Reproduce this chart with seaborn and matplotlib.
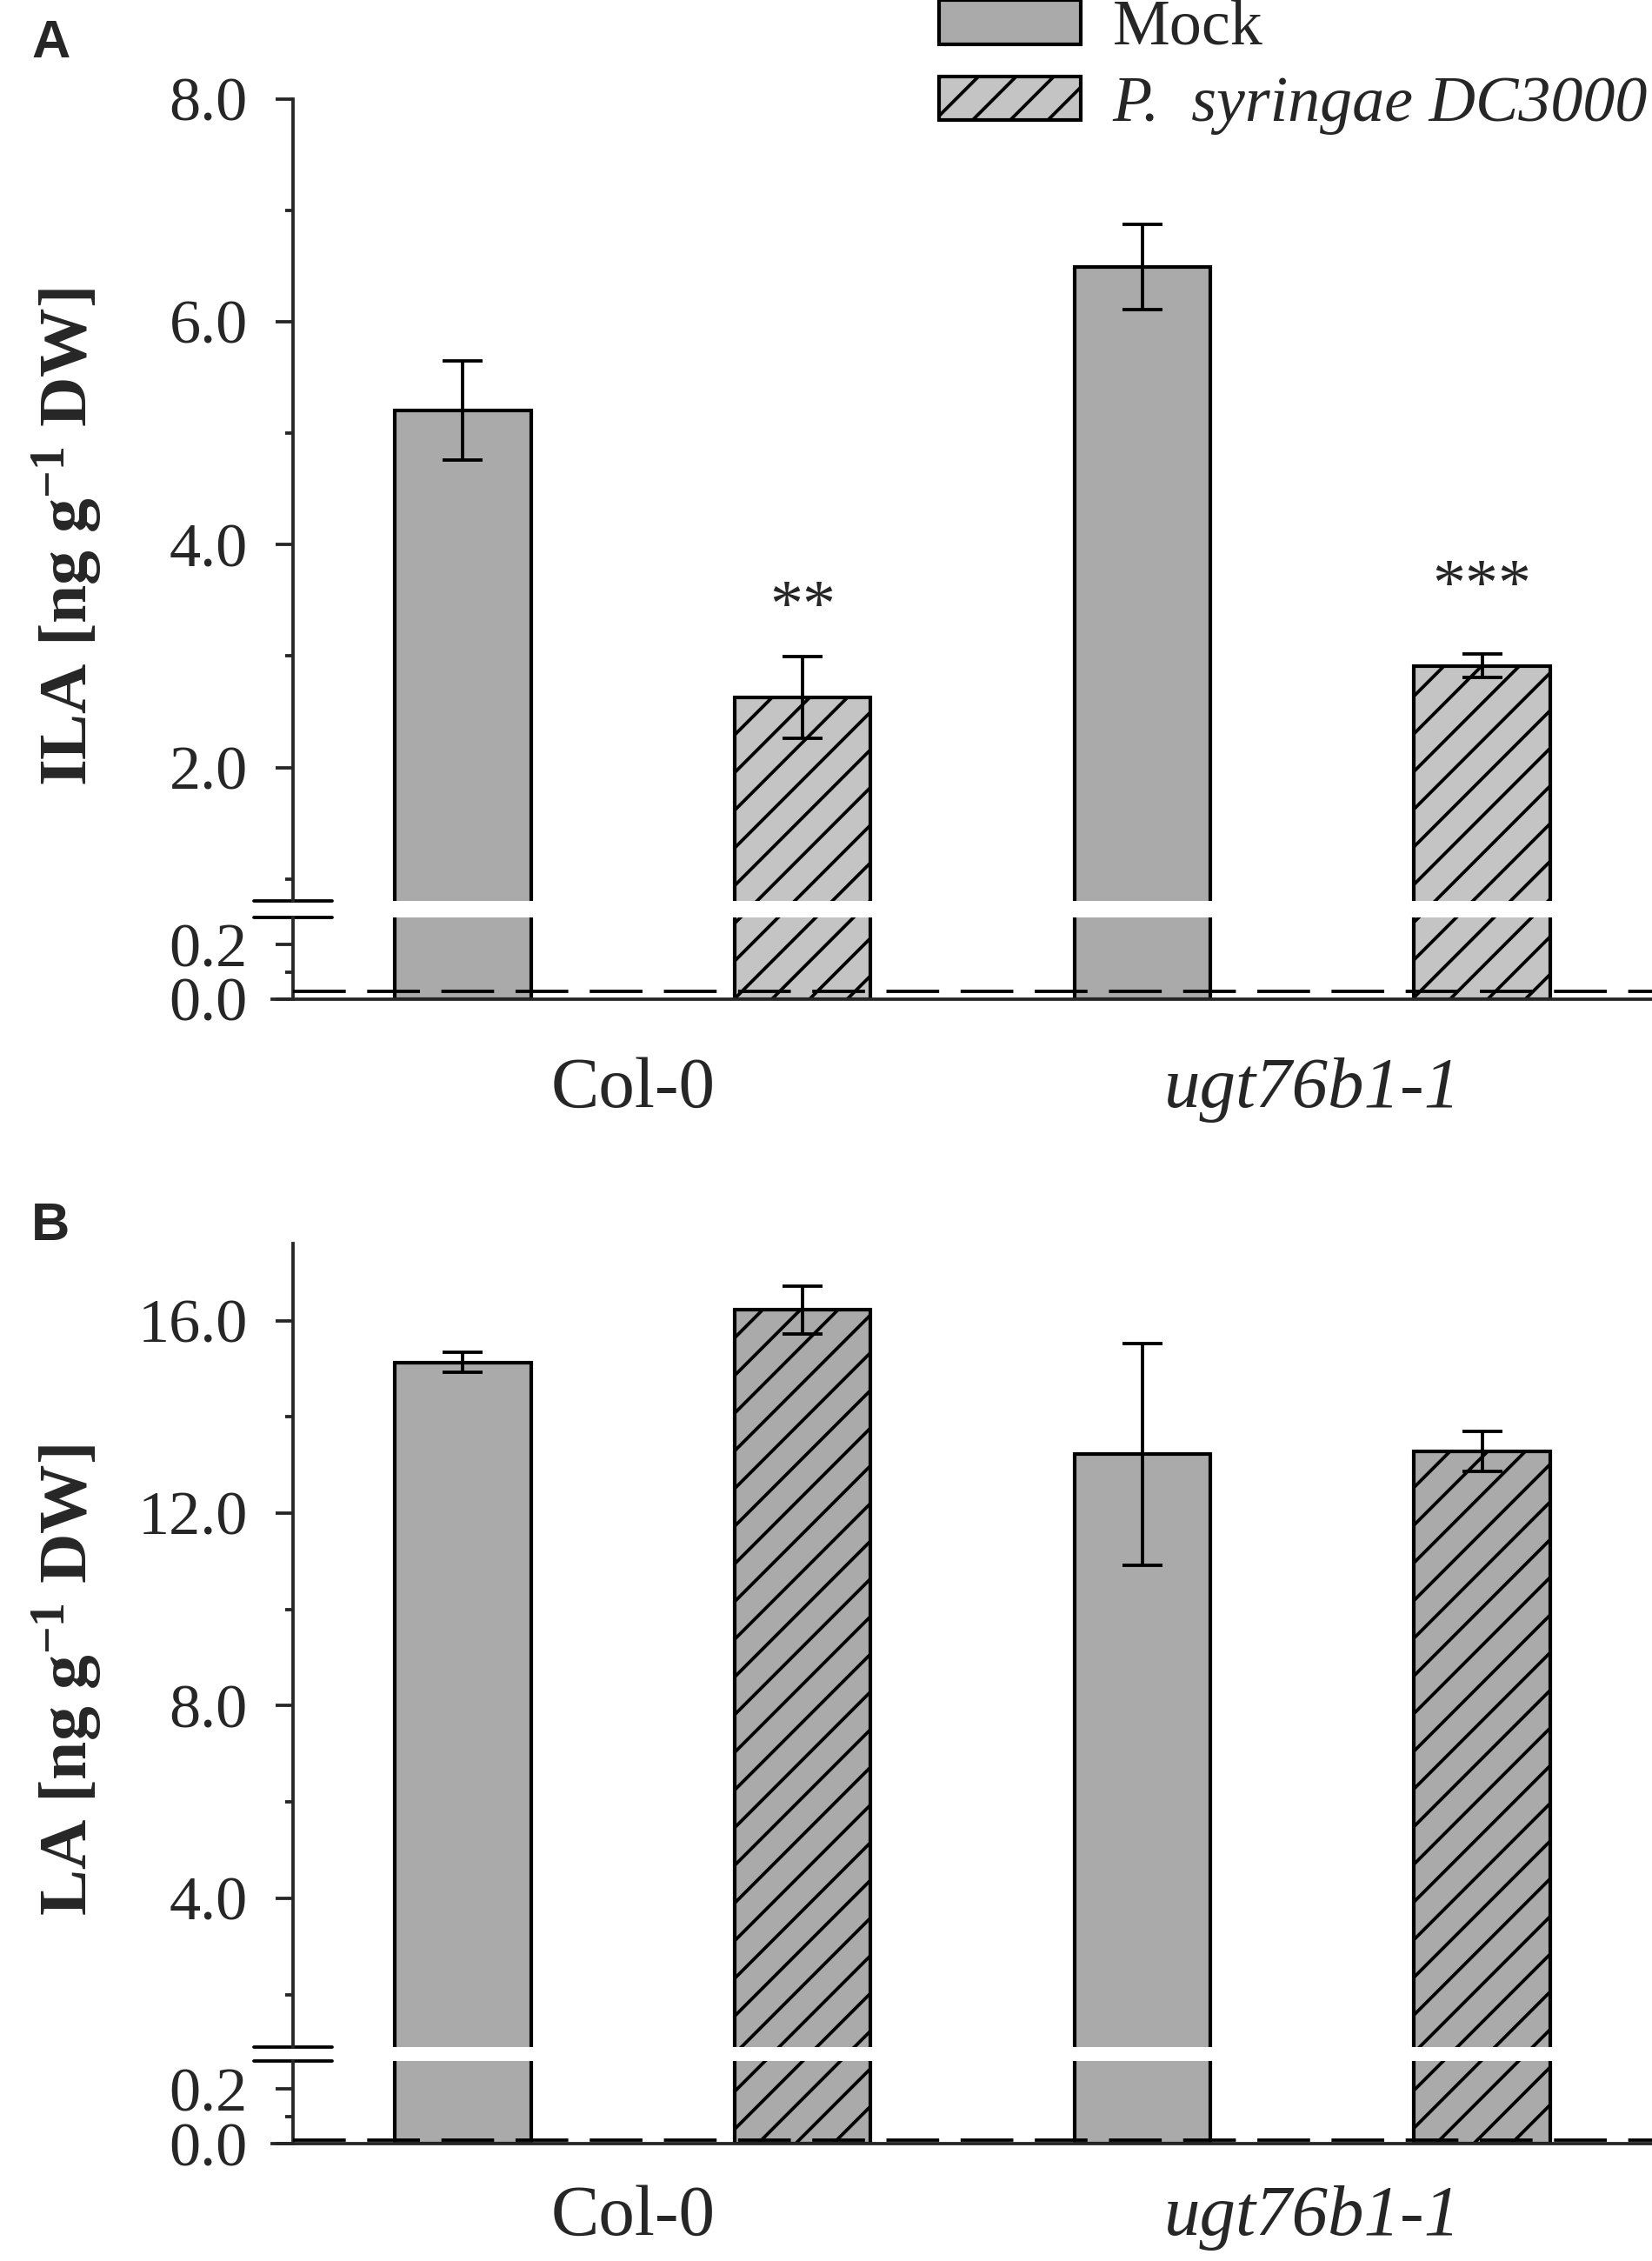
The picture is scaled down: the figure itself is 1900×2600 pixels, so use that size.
import numpy as np
import pandas as pd
import matplotlib
matplotlib.use("Agg")
import matplotlib.pyplot as plt
from matplotlib.patches import Patch
from matplotlib.ticker import FixedLocator, FormatStrFormatter
import seaborn as sns

sns.set_style("ticks")
plt.rcParams["font.family"] = ["Liberation Serif", "DejaVu Serif"]
plt.rcParams["mathtext.fontset"] = "custom"
plt.rcParams["mathtext.rm"] = "Liberation Serif"
plt.rcParams["mathtext.bf"] = "Liberation Serif:bold"
plt.rcParams["mathtext.default"] = "bf"
plt.rcParams["hatch.linewidth"] = 1.05

# --- data ---
genotypes = ["Col-0", "ugt76b1-1"]
treatments = ["Mock", "P.  syringae DC3000"]

# panel A: ILA
ila_mock = [5.20, 6.49]
ila_mock_err = [0.445, 0.385]
ila_pst = [2.63, 2.91]
ila_pst_err = [0.365, 0.105]
ila_stars = ["**", "***"]
ila_star_y = [3.42, 3.61]
ila_lod = 0.028

# panel B: LA
la_mock = [15.13, 13.22]
la_mock_err = [0.21, 2.30]
la_pst = [16.22, 13.28]
la_pst_err = [0.49, 0.42]
la_lod = 0.014

mock_color = "#AAAAAA"
pst_color_a = "#C4C4C4"
pst_color_b = "#AAAAAA"

DPI = 260
fig = plt.figure(figsize=(1900 / DPI, 2600 / DPI), dpi=DPI)

left, width = 313 / 1900, 1 - 313 / 1900
xlim = (-0.5307, 1.5)
LW = 1.05


def draw_panel(ax_top, ax_bot, mock, mock_err, pst, pst_err, pst_color,
               top_lim, major, minor, lod, xpad, stars=None, star_y=None):
    df = pd.DataFrame({
        "genotype": genotypes * 2,
        "treatment": [treatments[0]] * 2 + [treatments[1]] * 2,
        "value": mock + pst,
    })
    for ax in (ax_top, ax_bot):
        sns.barplot(data=df, x="genotype", y="value", hue="treatment",
                    order=genotypes, hue_order=treatments,
                    palette=[mock_color, pst_color], saturation=1,
                    width=1.0, gap=0.6, errorbar=None, edgecolor="black",
                    linewidth=1.15, legend=False, ax=ax)
        for bar in ax.containers[1]:
            bar.set_hatch("//")
        ax.set_xlim(*xlim)
        ax.set_xlabel("")
        ax.set_ylabel("")
        ax.spines["left"].set_position(("data", -0.5))
        for s in ("top", "right"):
            ax.spines[s].set_visible(False)
        for s in ("left", "bottom"):
            ax.spines[s].set_linewidth(LW)
        ax.tick_params(axis="y", which="major", length=5.5, width=LW,
                       labelsize=20, pad=9, direction="out")
        ax.tick_params(axis="y", which="minor", length=2.5, width=LW,
                       direction="out", left=True)
        ax.yaxis.set_major_formatter(FormatStrFormatter("%.1f"))

    # error bars on the upper segment
    for cont, vals, errs in zip(ax_top.containers, [mock, pst], [mock_err, pst_err]):
        bars = sorted(cont, key=lambda b: b.get_x())
        xs = [b.get_x() + b.get_width() / 2 for b in bars]
        ax_top.errorbar(xs, vals, yerr=errs, fmt="none", ecolor="black",
                        elinewidth=LW, capsize=6.4, capthick=LW, zorder=5)
        if stars is not None and cont is ax_top.containers[1]:
            for x, s, y in zip(xs, stars, star_y):
                ax_top.text(x, y, s, ha="center", va="center", fontsize=21)

    ax_top.set_ylim(top_lim)
    ax_top.yaxis.set_major_locator(FixedLocator(major))
    ax_top.yaxis.set_minor_locator(FixedLocator(minor))
    ax_top.spines["bottom"].set_visible(False)
    ax_top.tick_params(axis="x", bottom=False, labelbottom=False)

    ax_bot.set_ylim(0, 0.3)
    ax_bot.yaxis.set_major_locator(FixedLocator([0.0, 0.2]))
    ax_bot.yaxis.set_minor_locator(FixedLocator([0.1]))
    ax_bot.tick_params(axis="x", length=0, labelsize=23, pad=xpad)
    ax_bot.get_xticklabels()[1].set_style("italic")
    ax_bot.hlines(lod, -0.5, 1.5, colors="black", linestyles=(0, (16, 6.5)),
                  lw=LW, zorder=4)

    # axis break marks
    for ax, yy in ((ax_top, 0), (ax_bot, 1)):
        ax.plot([-0.557, -0.443], [yy, yy], transform=ax.get_xaxis_transform(),
                color="black", lw=LW, clip_on=False)


ax_a_top = fig.add_axes([left, 0.60138, width, 0.35496])
ax_a_bot = fig.add_axes([left, 0.55808, width, 0.03627])
ax_b_top = fig.add_axes([left, 0.09446, width, 0.35554])
ax_b_bot = fig.add_axes([left, 0.05192, width, 0.03635])

draw_panel(ax_a_top, ax_a_bot, ila_mock, ila_mock_err, ila_pst, ila_pst_err,
           pst_color_a, (0.8, 8.0), [2, 4, 6, 8], [1, 3, 5, 7], ila_lod, 18.3,
           ila_stars, ila_star_y)
draw_panel(ax_b_top, ax_b_bot, la_mock, la_mock_err, la_pst, la_pst_err,
           pst_color_b, (0.9, 17.6), [4, 8, 12, 16], [2, 6, 10, 14], la_lod, 13.2)

# y labels
fig.text(78 / 1900, 1 - 618 / 2600, "ILA [ng g$^{-1}$ DW]", rotation=90,
         ha="center", va="center", fontsize=22, fontweight="bold")
fig.text(78 / 1900, 1 - 1932 / 2600, "LA [ng g$^{-1}$ DW]", rotation=90,
         ha="center", va="center", fontsize=22, fontweight="bold")

# panel letters
fig.text(36 / 1900, 1 - 22 / 2600, "A", ha="left", va="top", fontsize=17,
         fontweight="bold", family=["Liberation Sans", "DejaVu Sans"])
fig.text(36 / 1900, 1 - 1382 / 2600, "B", ha="left", va="top", fontsize=17,
         fontweight="bold", family=["Liberation Sans", "DejaVu Sans"])

# legend
handles = [Patch(facecolor=mock_color, edgecolor="black", linewidth=1.15),
           Patch(facecolor=pst_color_a, edgecolor="black", linewidth=1.15, hatch="//")]
leg = fig.legend(handles, treatments, loc="upper right",
                 bbox_to_anchor=(1895 / 1900, 1.0), frameon=False, fontsize=20.5,
                 handlelength=2.2, handleheight=0.68, handletextpad=0.5,
                 labelspacing=0.27, borderpad=0.0, borderaxespad=0.0)
leg.get_texts()[1].set_style("italic")

fig.savefig("out.png", dpi=DPI)
